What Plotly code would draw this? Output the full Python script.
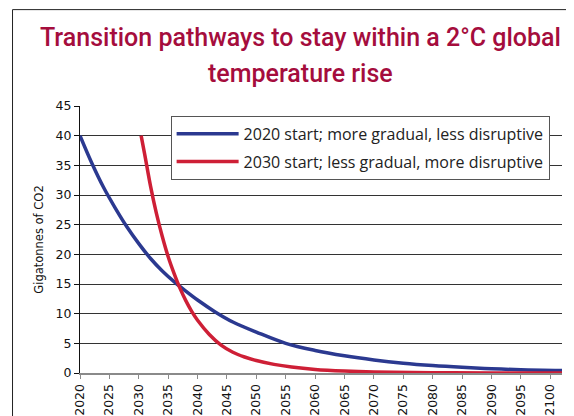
import plotly.graph_objects as go

title_lines = ["Transition pathways to stay within a 2°C global", "temperature rise"]
y_title = "Gigatonnes of CO2"
series_names = ["2020 start; more gradual, less disruptive",
                "2030 start; less gradual, more disruptive"]

blue_years = [2020, 2022, 2024, 2026, 2028, 2030, 2032, 2034, 2036, 2038, 2040, 2043, 2046,
              2050, 2055, 2060, 2065, 2070, 2075, 2080, 2085, 2090, 2095, 2102]
blue_vals = [40, 35.4, 31.3, 27.8, 24.6, 21.8, 19.3, 17.2, 15.4, 13.8, 12.3, 10.3, 8.6,
             6.9, 5.0, 3.8, 2.9, 2.2, 1.65, 1.25, 0.95, 0.72, 0.55, 0.42]

red_years = [2030.4, 2031, 2032, 2033, 2034, 2035, 2036, 2037, 2038, 2039, 2040, 2042, 2044,
             2046, 2048, 2050, 2053, 2056, 2060, 2065, 2070, 2080, 2090, 2102]
red_vals = [40, 36.9, 31.5, 26.9, 23.0, 19.6, 16.8, 14.3, 12.2, 10.4, 8.9, 6.5, 4.7,
            3.5, 2.7, 2.1, 1.45, 1.0, 0.6, 0.33, 0.18, 0.06, 0.02, 0.0]

x_ticks = list(range(2020, 2101, 5))
y_ticks = list(range(0, 46, 5))

BLUE = "#2B3990"
RED = "#CE1F36"
TITLE = "#A50D3D"

fig = go.Figure()
fig.add_trace(go.Scatter(x=blue_years, y=blue_vals, mode="lines", name=series_names[0],
                         legendgroup="a",
                         line=dict(color=BLUE, width=3.5, shape="spline")))
fig.add_trace(go.Scatter(x=red_years, y=red_vals, mode="lines", name=series_names[1],
                         legendgroup="b",
                         line=dict(color=RED, width=3.5, shape="spline")))

# page body has an 8px margin, so the figure is 8px smaller and offset
fig.update_layout(
    width=566, height=408,
    margin=dict(l=72, r=12, t=98, b=43),
    paper_bgcolor="white", plot_bgcolor="white",
    showlegend=True,
    legend=dict(x=0.188, y=0.963, xanchor="left", yanchor="top",
                bgcolor="white", bordercolor="#555555", borderwidth=1,
                font=dict(family="Open Sans", size=16, color="#222222"),
                itemwidth=62, traceorder="grouped", tracegroupgap=4),
    xaxis=dict(range=[2020, 2102], tickmode="array", tickvals=x_ticks,
               ticktext=[str(v) for v in x_ticks], tickangle=-90, automargin=False,
               showgrid=False, zeroline=False,
               showline=True, linecolor="#8A8A8A", linewidth=2,
               ticks="outside", ticklen=4, tickcolor="#8A8A8A",
               tickfont=dict(family="DejaVu Sans", size=12.5, color="#111111")),
    yaxis=dict(range=[0, 45], tickmode="array", tickvals=y_ticks, automargin=False,
               showgrid=True, gridcolor="#333333", gridwidth=1, zeroline=False,
               showline=True, linecolor="#111111", linewidth=1,
               ticks="outside", ticklen=5, tickcolor="#111111",
               tickfont=dict(family="DejaVu Sans", size=12.5, color="#111111"),
               title=dict(text=y_title, standoff=9,
                          font=dict(family="DejaVu Sans", size=11.5, color="#111111"))),
    shapes=[dict(type="rect", xref="paper", yref="paper",
                 x0=-0.14, x1=1.2, y0=-0.4, y1=1.361,
                 line=dict(color="#222222", width=1), fillcolor="rgba(0,0,0,0)", layer="below")],
    annotations=[
        dict(text=title_lines[0], xref="paper", yref="paper", x=0.458, y=1.258,
             xanchor="center", yanchor="middle", showarrow=False,
             font=dict(family="Roboto", size=25, weight=500, color=TITLE)),
        dict(text=title_lines[1], xref="paper", yref="paper", x=0.458, y=1.12,
             xanchor="center", yanchor="middle", showarrow=False,
             font=dict(family="Roboto", size=25, weight=500, color=TITLE)),
    ],
)

fig.write_html("out.html")
